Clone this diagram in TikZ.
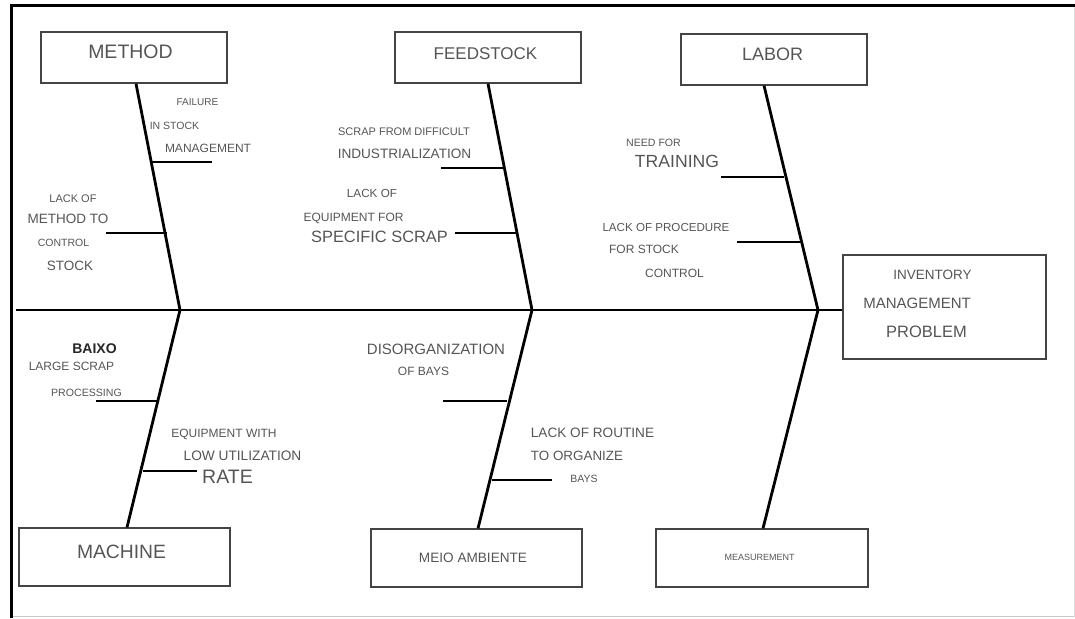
\documentclass[tikz,border=0pt]{standalone}
\usepackage{fontspec}
\setmainfont{Liberation Sans}
\definecolor{txtgray}{HTML}{555555}
\definecolor{boxgray}{HTML}{444444}
\definecolor{framegray}{HTML}{C8C8C8}
\tikzset{
  catbox/.style={draw=boxgray, line width=1.2pt, fill=none, inner sep=0pt, minimum width=#1},
  catbox/.default=186pt,
  bone/.style={draw=black, line width=2.8pt},
  twig/.style={draw=black, line width=2.6pt},
  lbltxt/.style={text=txtgray, inner sep=0pt, anchor=base},
}
% \tl{name}{x,y}{size}{text}
\newcommand\tl[4]{\node[lbltxt, font=\fontsize{#3}{#3}\selectfont, yshift={-0.358*#3pt}] (#1) at (#2) {#4};}
\begin{document}
\begin{tikzpicture}[x=1pt,y=-1pt]
\useasboundingbox (0,0) rectangle (1075,618);
% frame
\draw[framegray, line width=1pt] (10,616.5) -- (1075,616.5);
\draw[framegray!60, line width=0.8pt] (1074.5,6) -- (1074.5,616.5);
\draw[black, line width=3pt] (11.5,618) -- (11.5,6) -- (1075,6);

% category boxes
\node[catbox=186pt, minimum height=51pt] (method) at (134,57.5) {};
\node[catbox=186pt, minimum height=51pt] (feed) at (488,57.5) {};
\node[catbox=186pt, minimum height=51pt] (labor) at (774,59.5) {};
\node[catbox=203pt, minimum height=104pt] (inv) at (944.5,307) {};
\node[catbox=211pt, minimum height=58pt] (machine) at (124.5,557) {};
\node[catbox=211pt, minimum height=58pt] (meio) at (476.5,558) {};
\node[catbox=212pt, minimum height=58pt] (meas) at (762,558) {};

% joints
\coordinate (spineL) at (16,310);
\coordinate (j1) at (180,310);
\coordinate (j2) at (532,310);
\coordinate (j3) at (818,310);

% spine and bones
\draw[bone, line width=2.6pt] (spineL) -- (spineL -| inv.west);
\draw[bone] ([xshift=2pt]method.south) -- (j1);
\draw[bone] (feed.south) -- (j2);
\draw[bone] ([xshift=-10pt]labor.south) -- (j3);
\draw[bone] (j1) -- ([xshift=2.5pt]machine.north);
\draw[bone] (j2) -- ([xshift=1.5pt]meio.north);
\draw[bone] (j3) -- ([xshift=1pt]meas.north);

% twigs
\draw[twig] (151,162) -- (212,162);
\draw[twig] (106,233) -- (167,233);
\draw[twig] (441,168) -- (504,168);
\draw[twig] (455,233) -- (518,233);
\draw[twig] (721,177) -- (784,177);
\draw[twig] (737,242) -- (801,242);
\draw[twig] (96,401) -- (158,401);
\draw[twig] (143,471) -- (197,471);
\draw[twig] (443,401) -- (507,401);
\draw[twig] (492,480) -- (552,480);

% box labels
\tl{tmethod}{130.5,52}{19.5}{METHOD}
\tl{tfeed}{485.5,53}{17}{FEEDSTOCK}
\tl{tlabor}{772.5,54}{18}{LABOR}
\tl{tinv1}{932.5,275}{13.5}{INVENTORY}
\tl{tinv2}{917,303}{15}{MANAGEMENT}
\tl{tinv3}{926.5,332}{16.5}{PROBLEM}
\tl{tmachine}{121.5,552}{19.3}{MACHINE}
\tl{tmeio}{473,558}{13.6}{MEIO AMBIENTE}
\tl{tmeas}{759.5,557}{9}{MEASUREMENT}

% method causes
\tl{m1a}{197.5,102}{10}{FAILURE}
\tl{m1b}{174.5,126}{10.5}{IN STOCK}
\tl{m1c}{208,148}{12}{MANAGEMENT}
\tl{m2a}{73,199}{11}{LACK OF}
\tl{m2b}{68,219}{13.5}{METHOD TO}
\tl{m2c}{63.5,243}{10.5}{CONTROL}
\tl{m2d}{70,266}{13.5}{STOCK}

% feedstock causes
\tl{f1a}{404,132}{11}{SCRAP FROM DIFFICULT}
\tl{f1b}{404.5,154}{13.6}{INDUSTRIALIZATION}
\tl{f2a}{372,193}{11.7}{LACK OF}
\tl{f2b}{353.5,217}{12}{EQUIPMENT FOR}
\tl{f2c}{379.5,237}{16.4}{SPECIFIC SCRAP}

% labor causes
\tl{l1a}{653.5,143}{10.6}{NEED FOR}
\tl{l1b}{677,161}{17.6}{TRAINING}
\tl{l2a}{666,227}{11.6}{LACK OF PROCEDURE}
\tl{l2b}{644,249}{12}{FOR STOCK}
\tl{l2c}{674.5,273}{12}{CONTROL}

% machine causes
\node[lbltxt, text=black!85, font=\fontsize{14}{14}\selectfont\bfseries, yshift={-0.358*14pt}] (k0) at (94.5,348) {BAIXO};
\tl{k1a}{71.5,366}{12}{LARGE SCRAP}
\tl{k1b}{86.5,393}{10.6}{PROCESSING}
\tl{k2a}{224,433}{12}{EQUIPMENT WITH}
\tl{k2b}{242.5,456}{13.7}{LOW UTILIZATION}
\tl{k2c}{227.5,477}{19.5}{RATE}

% meio ambiente causes
\tl{e1a}{436,349}{15}{DISORGANIZATION}
\tl{e1b}{423.5,371}{12}{OF BAYS}
\tl{e2a}{592.5,433}{13.6}{LACK OF ROUTINE}
\tl{e2b}{577,456}{13.4}{TO ORGANIZE}
\tl{e2c}{584,479}{10.5}{BAYS}
\end{tikzpicture}
\end{document}
